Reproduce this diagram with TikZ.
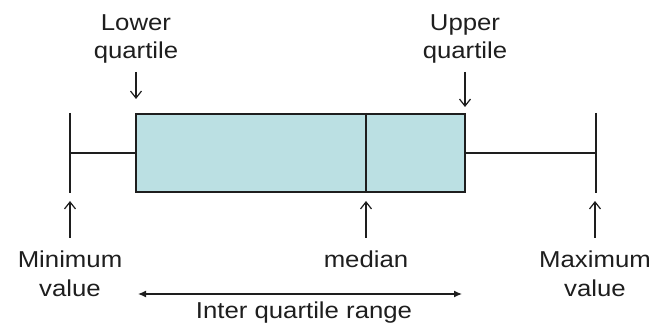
\documentclass[tikz,border=0pt]{standalone}
\usepackage{fontspec}
\setmainfont{Liberation Sans}[FakeStretch=1.12]
\usetikzlibrary{arrows.meta}

\definecolor{inkgray}{RGB}{30,30,30}
\definecolor{boxteal}{RGB}{187,224,227}

\tikzset{
  iqrbox/.style={draw=inkgray, fill=boxteal, line width=1pt, inner sep=0pt},
  whisker/.style={draw=inkgray, line width=1pt},
  lbl/.style={inner sep=0pt, align=center, text=inkgray,
    font=\fontsize{11.5}{14.25}\selectfont},
  pointer/.style={draw=inkgray, line width=0.6pt,
    -{Straight Barb[length=3.5pt,width=5.5pt]}},
  span/.style={draw=inkgray, line width=0.6pt,
    {Latex[length=4pt,width=3.5pt]}-{Latex[length=4pt,width=3.5pt]}}
}

\begin{document}
\begin{tikzpicture}[x=0.5pt, y=-0.5pt]
     \useasboundingbox (0,0) rectangle (652,325);

     % the box and its whiskers
     \node[iqrbox, minimum width=164.5pt, minimum height=39pt] (box) at (300.5,153) {};
     \coordinate (minv) at (70,153);
     \coordinate (med) at (366,153);
     \coordinate (maxv) at (596,153);

     \draw[whisker] (box.north -| med) -- (box.south -| med);
     \draw[whisker] (minv) -- (box.west);
     \draw[whisker] (box.east) -- (maxv);
     \draw[whisker] (minv |- box.north) -- (minv |- box.south);
     \draw[whisker] (maxv |- box.north) -- (maxv |- box.south);

     % labels
     \node[lbl, anchor=south] (lowq) at (136,64) {Lower\\quartile};
     \node[lbl, anchor=south] (upq) at (465,64) {Upper\\quartile};
     \node[lbl, anchor=north] (minl) at (70,250.5) {Minimum\\value};
     \node[lbl, anchor=north] (medl) at (366,250.5) {median};
     \node[lbl, anchor=north] (maxl) at (595,250.5) {Maximum\\value};
     \node[lbl, anchor=base] (iqrl) at (304,319) {Inter quartile range};

     \coordinate (lowtip) at (136,99);
     \coordinate (uptip) at (465,107);
     \coordinate (mintip) at (70,201);
     \coordinate (medtip) at (366,201);
     \coordinate (maxtip) at (595,201);
     \coordinate (spanl) at (138,294);
     \coordinate (spanr) at (462,294);

     \path[pointer]
     (lowq) edge [shorten <=4pt] (lowtip)
     (upq) edge [shorten <=4pt] (uptip)
     (minl) edge [shorten <=6.25pt] (mintip)
     (medl) edge [shorten <=6.25pt] (medtip)
     (maxl) edge [shorten <=6.25pt] (maxtip);

     \draw[span] (spanl) -- (spanr);
\end{tikzpicture}
\end{document}
